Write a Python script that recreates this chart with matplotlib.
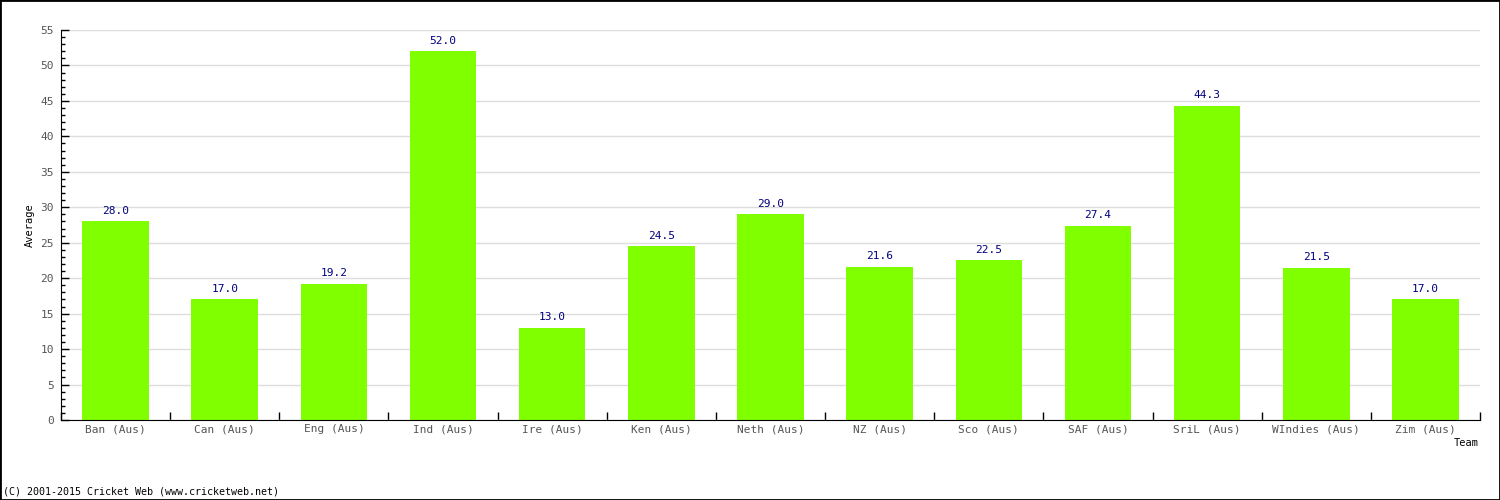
import matplotlib
matplotlib.use("Agg")
import matplotlib.pyplot as plt
from matplotlib.ticker import MultipleLocator
import numpy as np

# -----------------------------------------------------------------------------
# Data
# -----------------------------------------------------------------------------
teams = ["Ban (Aus)", "Can (Aus)", "Eng (Aus)", "Ind (Aus)", "Ire (Aus)",
         "Ken (Aus)", "Neth (Aus)", "NZ (Aus)", "Sco (Aus)", "SAF (Aus)",
         "SriL (Aus)", "WIndies (Aus)", "Zim (Aus)"]
averages = [28.0, 17.0, 19.2, 52.0, 13.0, 24.5, 29.0, 21.6, 22.5, 27.4,
            44.3, 21.5, 17.0]

plt.rcParams['font.family'] = ['DejaVu Sans Mono']

fig = plt.figure(figsize=(15, 5), dpi=100)
ax = fig.add_axes([61 / 1500, 80 / 500, 1419 / 1500, 390 / 500])

x = np.arange(len(teams))
ax.bar(x, averages, width=0.61, color="#7fff00", zorder=2)

for xi, v in zip(x, averages):
    ax.annotate(f"{v:.1f}", (xi, v), xytext=(0, 4), textcoords="offset points",
                ha="center", va="bottom", fontsize=8, color="#000080")

ax.set_xlim(-0.5, len(teams) - 0.5)
ax.set_ylim(0, 55)
ax.yaxis.set_major_locator(MultipleLocator(5))
ax.yaxis.set_minor_locator(MultipleLocator(1))
ax.grid(axis="y", color="#dddddd", linewidth=1, zorder=0)

# category labels between boundary ticks
ax.set_xticks(x)
ax.set_xticklabels(teams)
ax.set_xticks(np.arange(len(teams) + 1) - 0.5, minor=True)
ax.tick_params(axis="x", which="major", length=0, pad=3,
               labelsize=8, labelcolor="#555555")
ax.tick_params(axis="x", which="minor", direction="in", length=6, width=1)
ax.tick_params(axis="y", which="major", direction="in", length=6, width=1,
               labelsize=8, labelcolor="#555555", pad=5)
ax.tick_params(axis="y", which="minor", direction="in", length=3, width=1)

for s in ["top", "right"]:
    ax.spines[s].set_visible(False)

ax.set_ylabel("Average", fontsize=7.5, labelpad=4)
fig.text(1479 / 1500, 1 - 443 / 500, "Team", ha="right", va="center", fontsize=7.5)
fig.text(3 / 1500, 1 - 492 / 500, "(C) 2001-2015 Cricket Web (www.cricketweb.net)",
         ha="left", va="center", fontsize=7.2)

# figure border
fig.patches.append(plt.Rectangle((0, 0), 1, 1, transform=fig.transFigure,
                                 fill=False, edgecolor="black", linewidth=2))

fig.savefig("out.png", dpi=100)
